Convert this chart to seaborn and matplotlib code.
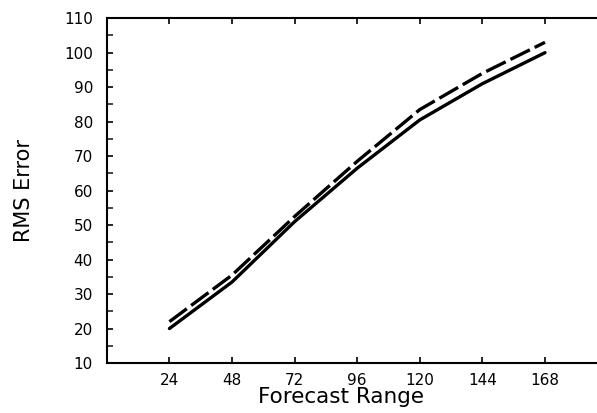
import matplotlib
matplotlib.use("Agg")
import matplotlib.pyplot as plt
import pandas as pd
import seaborn as sns

# forecast range (hours)
hours = [24, 48, 72, 96, 120, 144, 168]
# RMS error, two runs
rms_solid = [20.0, 33.5, 51.0, 66.5, 80.5, 91.0, 100.0]
rms_dashed = [22.0, 35.5, 52.5, 68.5, 83.5, 94.0, 103.0]
xticks = [24, 48, 72, 96, 120, 144, 168]
yticks = [10, 20, 30, 40, 50, 60, 70, 80, 90, 100, 110]

df = pd.concat([
    pd.DataFrame({"hour": hours, "rms": rms_solid, "run": "a"}),
    pd.DataFrame({"hour": hours, "rms": rms_dashed, "run": "b"}),
])

sns.set_style("ticks")
plt.rcParams["font.family"] = ["DejaVu Sans"]

fig = plt.figure(figsize=(5.97, 4.13), dpi=100)
ax = fig.add_axes([0.179, 0.121, 0.83, 0.835])

sns.lineplot(data=df, x="hour", y="rms", style="run", dashes={"a": "", "b": (6.5, 1.6)},
             color="black", linewidth=2.4, legend=False, ax=ax)

ax.set_xlim(0, 190)
ax.set_ylim(10, 110)
ax.set_xticks(xticks)
ax.set_yticks(yticks)
ax.set_yticks(range(15, 110, 10), minor=True)
ax.tick_params(direction="in", length=4, width=1.2, labelsize=11, top=True,
               colors="black", labelcolor="black")
ax.tick_params(which="minor", direction="in", length=4, width=1.2, left=True)
ax.tick_params(axis="x", pad=7)
ax.tick_params(axis="y", pad=10)

for side in ["left", "bottom", "top"]:
    ax.spines[side].set_linewidth(1.5)
    ax.spines[side].set_color("black")
ax.spines["right"].set_visible(False)

ax.set_xlabel("Forecast Range", fontsize=15.5, color="black")
ax.set_ylabel("RMS Error", fontsize=15, color="black")
ax.xaxis.set_label_coords(0.473, -0.07)
ax.yaxis.set_label_coords(-0.147, 0.5)

fig.savefig("out.png", dpi=100)
